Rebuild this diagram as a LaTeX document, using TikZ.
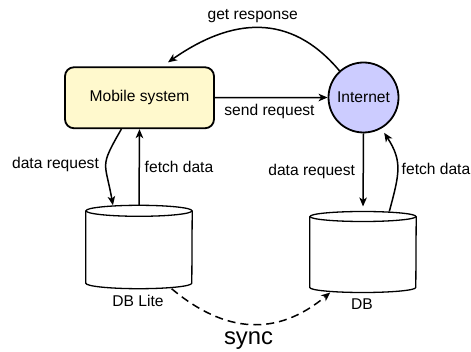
\documentclass[tikz,border=0pt]{standalone}
\usepackage{fontspec}
\setmainfont{Liberation Sans}
\usetikzlibrary{arrows.meta,calc}
\begin{document}
\begin{tikzpicture}[x=1pt,y=1pt,
  lbl/.style={inner sep=0pt,font=\fontsize{15.6}{18}\selectfont},
  arr/.style={line width=1.5pt,-{Stealth[length=9pt,width=7.5pt,inset=2.5pt]}},
  mobbox/.style={draw,line width=1.8pt,rounded corners=9pt,fill=boxyellow,minimum width=149pt,minimum height=61pt,font=\fontsize{15.6}{18}\selectfont},
  netcirc/.style={draw,circle,line width=1.8pt,fill=netblue,minimum size=70pt,inner sep=0pt,font=\fontsize{15.6}{18}\selectfont},
  dbbox/.style={inner sep=0pt,minimum width=106pt},
  cylline/.style={line width=1.3pt}
]
\definecolor{boxyellow}{HTML}{FFF9CD}
\definecolor{netblue}{HTML}{CCCCFF}
\useasboundingbox (0,0) rectangle (471,-352);

\node[mobbox] (mob) at (139.5,-97.75) {Mobile system};
\node[netcirc] (inet) at (363.5,-97.5) {Internet};
\node[dbbox,minimum height=83pt] (dbl) at (139,-247) {};
\node[dbbox,minimum height=80.6pt] (db) at (363,-252) {};

% cylinders
\foreach \n/\ry in {dbl/5.5,db/5} {
  \draw[cylline] ([yshift=-\ry pt]\n.north west) -- ([yshift=\ry pt]\n.south west)
    arc[start angle=180,end angle=360,x radius=53pt,y radius=\ry pt]
    -- ([yshift=-\ry pt]\n.north east);
  \draw[cylline] ([yshift=-\ry pt]\n.north) ellipse[x radius=53pt,y radius=\ry pt];
}

\node[lbl] (dbll) at (138,-300.5) {DB Lite};
\node[lbl] (dbla) at (362,-304.5) {DB};

% connectors
\draw[arr] (mob.east) -- (inet.west);
\node[lbl] (sendl) at (269.5,-111) {send request};

\coordinate (getend) at ($(mob.north)+(28.5,4)$);
\draw[arr] (inet.132) to[out=130,in=35,looseness=1.15] (getend);
\node[lbl] (getl) at (252.7,-16.5) {get response};

\draw[arr] (mob.240) to[out=240,in=100,looseness=1.5] (dbl.122);
\node[lbl] (dreql) at (55.5,-164.5) {data request};

\draw[arr] (dbl.north) -- (mob.south);
\node[lbl] (fetchl) at (179,-166.5) {fetch data};

\draw[arr,shorten >=5pt] (inet.south) -- (db.north);
\node[lbl] (dreqr) at (311.7,-171) {data request};

\draw[arr,shorten >=5pt] (db.57) to[out=75,in=-57,looseness=1.2] (inet.300);
\node[lbl] (fetchr) at (436,-168.5) {fetch data};

\draw[arr,dash pattern=on 8pt off 5pt] (dbl.308) to[out=-40,in=220,looseness=1.12] (db.231);
\node[inner sep=0pt,font=\fontsize{23.8}{27}\selectfont] (syncl) at (248.5,-341) {sync};
\end{tikzpicture}
\end{document}
